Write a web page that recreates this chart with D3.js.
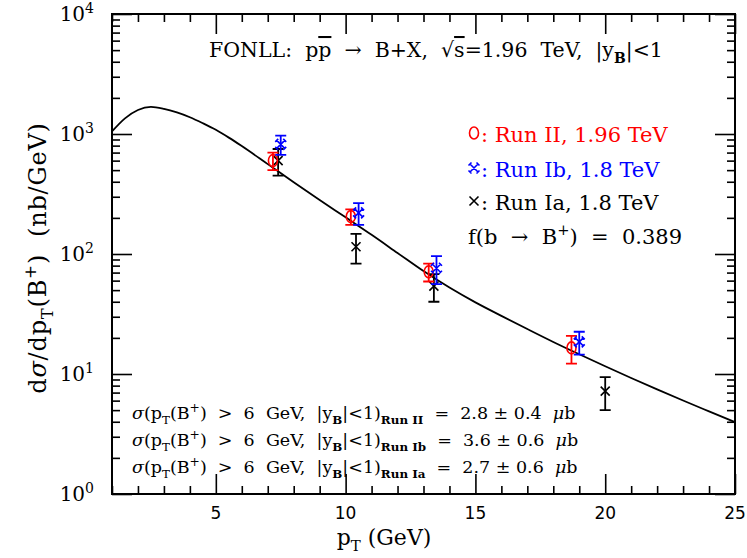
<!DOCTYPE html>
<html><head><meta charset="utf-8">
<script src="https://cdn.jsdelivr.net/npm/d3@7"></script>
<style>body{margin:0;background:#fff}svg text{white-space:pre}</style>
</head><body>
<svg id="c" width="747" height="558"></svg>
<script>
// ---- data ----
const curvePt  = [1, 1.5, 2, 2.5, 3, 3.5, 4, 4.5, 5, 5.5, 6, 7, 8, 9, 10, 11, 12, 13, 14, 15, 16, 17, 18, 19, 20, 21, 22, 23, 24, 25];
const curveVal = [1050, 1350, 1585, 1680, 1620, 1514, 1380, 1230, 1084, 933, 793, 561, 396, 282, 202, 144.5, 102, 72, 52.5, 39.5, 30.5, 23.7, 18.5, 14.6, 11.6, 9.27, 7.45, 6.01, 4.88, 3.97];

const runIIPt  = [7.2, 10.2, 13.2, 18.7];
const runIIVal = [600, 205, 71, 16.5];
const runIIErr = [100, 30, 12, 4.3];

const runIbPt  = [7.5, 10.5, 13.5, 19.0];
const runIbVal = [820, 220, 76, 18.5];
const runIbErr = [150, 45, 20, 4];

const runIaPt  = [7.4, 10.4, 13.4, 20.0];
const runIaVal = [600, 115, 54, 7.2];
const runIaErr = [150, 32, 14, 2.2];

const xTicks = [5, 10, 15, 20, 25];
const yTickExp = [0, 1, 2, 3, 4];

// ---- layout ----
const L = 112, R = 735, T = 14, B = 494;
const FONT = "DejaVu Serif";
const svg = d3.select("#c");
const x = d3.scaleLinear().domain([1, 25]).range([L, R]);
const y = d3.scaleLog().domain([1, 1e4]).range([B, T]);

// frame
svg.append("rect").attr("x", L).attr("y", T).attr("width", R - L).attr("height", B - T)
  .attr("fill", "none").attr("stroke", "#000").attr("stroke-width", 2);

const MAJ = 20, MIN = 8;
const xMinor = d3.range(1, 26).filter(v => !xTicks.includes(v));
const yMinor = [];
for (let e = 0; e < 4; e++) for (let k = 2; k <= 9; k++) yMinor.push(k * Math.pow(10, e));
const yMajor = yTickExp.map(e => Math.pow(10, e));

function axisLines(gen, vals, size, tr) {
  const g = svg.append("g").attr("transform", tr)
    .call(gen.tickValues(vals).tickSizeInner(size).tickSizeOuter(0).tickFormat(""));
  g.select(".domain").remove();
  g.selectAll(".tick line").attr("stroke", "#000").attr("stroke-width", 1.6);
}
axisLines(d3.axisBottom(x), xTicks, -MAJ, `translate(0,${B})`);
axisLines(d3.axisBottom(x), xMinor, -MIN, `translate(0,${B})`);
axisLines(d3.axisTop(x), xTicks, -MAJ, `translate(0,${T})`);
axisLines(d3.axisTop(x), xMinor, -MIN, `translate(0,${T})`);
axisLines(d3.axisLeft(y), yMajor, -MAJ, `translate(${L},0)`);
axisLines(d3.axisLeft(y), yMinor, -MIN, `translate(${L},0)`);
axisLines(d3.axisRight(y), yMajor, -MAJ, `translate(${R},0)`);
axisLines(d3.axisRight(y), yMinor, -MIN, `translate(${R},0)`);

// x tick labels
svg.append("g").selectAll("text").data(xTicks).join("text")
  .attr("x", d => x(d)).attr("y", 519).attr("text-anchor", "middle")
  .attr("font-family", "DejaVu Sans").attr("font-size", 17).text(d => d);

// rich text helper
function rich(sel, segs, size) {
  let cur = 0;
  segs.forEach(([t, m]) => {
    let off = 0, fs = size, fw = null;
    if (m === "sub" || m === "subb") { off = 0.28 * size; fs = 0.68 * size; }
    if (m === "sup") { off = -0.42 * size; fs = 0.7 * size; }
    if (m === "subb") fw = "bold";
    const ts = sel.append("tspan").attr("dy", off - cur).attr("font-size", fs).text(t);
    if (fw) ts.attr("font-weight", fw);
    if (m === "ol") ts.attr("text-decoration", "overline");
    if (m === "it") ts.attr("font-style", "italic");
    cur = off;
  });
  return sel;
}

// y tick labels
yTickExp.forEach(e => {
  const t = svg.append("text").attr("x", 94).attr("y", y(Math.pow(10, e)) + 7)
    .attr("text-anchor", "end").attr("font-family", FONT);
  rich(t, [["10", "n"], [String(e), "sup"]], 20);
});

// axis titles
const xt = svg.append("text").attr("x", 384).attr("y", 545).attr("text-anchor", "middle")
  .attr("font-family", FONT);
rich(xt, [["p", "n"], ["T", "sub"], [" (GeV)", "n"]], 22);

const yt = svg.append("text").attr("transform", "translate(46,258) rotate(-90)")
  .attr("text-anchor", "middle").attr("font-family", FONT).attr("letter-spacing", 0.8);
rich(yt, [["d", "n"], ["σ", "it"], ["/dp", "n"], ["T", "sub"], ["(B", "n"], ["+", "sup"], [")  (nb/GeV)", "n"]], 24);

// curve
const line = d3.line().x(d => x(d[0])).y(d => y(d[1])).curve(d3.curveMonotoneX);
svg.append("path").datum(curvePt.map((p, i) => [p, curveVal[i]]))
  .attr("d", line).attr("fill", "none").attr("stroke", "#000").attr("stroke-width", 1.8);

// markers
function marker(g, type, cx, cy, color) {
  if (type === "circle") {
    g.append("ellipse").attr("cx", cx).attr("cy", cy).attr("rx", 4.5).attr("ry", 6)
      .attr("fill", "none").attr("stroke", color).attr("stroke-width", 1.6);
  } else if (type === "x") {
    const s = 4.5;
    g.append("path").attr("d", `M${cx - s},${cy - s}L${cx + s},${cy + s}M${cx - s},${cy + s}L${cx + s},${cy - s}`)
      .attr("stroke", color).attr("stroke-width", 1.6);
  } else {
    const s = 4;
    g.append("path").attr("d",
      `M${cx - s},${cy - s}L${cx + s},${cy + s}M${cx - s},${cy + s}L${cx + s},${cy - s}` +
      `M${cx - s - 1.5},${cy - s + 1.5}L${cx - s + 1.5},${cy - s - 1.5}M${cx + s + 1.5},${cy - s + 1.5}L${cx + s - 1.5},${cy - s - 1.5}` +
      `M${cx - s - 1.5},${cy + s - 1.5}L${cx - s + 1.5},${cy + s + 1.5}M${cx + s + 1.5},${cy + s - 1.5}L${cx + s - 1.5},${cy + s + 1.5}`)
      .attr("stroke", color).attr("stroke-width", 1.6);
  }
}
function series(pt, val, err, color, type) {
  const g = svg.append("g");
  pt.forEach((p, i) => {
    const cx = x(p), y1 = y(val[i] + err[i]), y0 = y(val[i] - err[i]);
    g.append("path").attr("d", `M${cx},${y1}L${cx},${y0}M${cx - 5.5},${y1}L${cx + 5.5},${y1}M${cx - 5.5},${y0}L${cx + 5.5},${y0}`)
      .attr("stroke", color).attr("stroke-width", 1.8).attr("fill", "none");
    marker(g, type, cx, y(val[i]), color);
  });
}
series(runIaPt, runIaVal, runIaErr, "#000", "x");
series(runIIPt, runIIVal, runIIErr, "#ff0000", "circle");
series(runIbPt, runIbVal, runIbErr, "#0000ff", "star");

// title
const tt = svg.append("text").attr("x", 209).attr("y", 57).attr("font-family", FONT);
rich(tt, [["FONLL:  p", "n"], ["p", "ol"], ["  →  B+X,  √", "n"], ["s", "ol"], ["=1.96  TeV,  |y", "n"], ["B", "subb"], ["|<1", "n"]], 20.5);

// legend
const legend = [["circle", "#ff0000", ": Run II, 1.96 TeV", 135], ["star", "#0000ff", ": Run Ib, 1.8 TeV", 170], ["x", "#000", ": Run Ia, 1.8 TeV", 203]];
legend.forEach(([type, col, txt, ly]) => {
  const g = svg.append("g");
  marker(g, type, 474, ly - 2, col);
  svg.append("text").attr("x", 481).attr("y", ly + 7).attr("font-family", FONT)
    .attr("font-size", 21).attr("fill", col).text(txt);
});
const ft = svg.append("text").attr("x", 468).attr("y", 244).attr("font-family", FONT);
rich(ft, [["f(b  →  B", "n"], ["+", "sup"], [")  =  0.389", "n"]], 21);

// cross sections
const runs = ["Run II", "Run Ib", "Run Ia"];
const xs = ["2.8 ± 0.4", "3.6 ± 0.6", "2.7 ± 0.6"];
runs.forEach((r, i) => {
  const t = svg.append("text").attr("x", 132).attr("y", 419 + i * 27).attr("font-family", FONT);
  rich(t, [["σ", "it"], ["(p", "n"], ["T", "sub"], ["(B", "n"], ["+", "sup"], [")  >  6  GeV,  |y", "n"], ["B", "subb"], ["|<1)", "n"], [r, "subb"], ["  =  " + xs[i] + "  ", "n"], ["μ", "it"], ["b", "n"]], 17.5);
});
</script>
</body></html>
